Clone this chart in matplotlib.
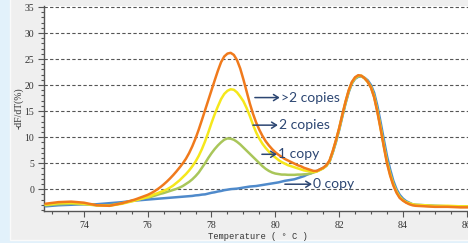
import numpy as np
import matplotlib.pyplot as plt
from matplotlib.patches import Rectangle
from matplotlib.ticker import MultipleLocator

# 熔解曲线数据，温度采样点
temps = ([72.8, 73.2, 73.6, 74.0, 74.4, 74.8, 75.2, 75.6]
         + list(np.round(np.arange(76.0, 84.45, 0.1), 1))
         + [84.7, 85.0, 85.4, 85.8, 86.2, 86.6, 86.8])

zero_copy = [-3.3, -3.1, -3.0, -2.9, -2.9, -2.7, -2.5, -2.2,
             -2.0, -1.95, -1.9, -1.85, -1.8, -1.75, -1.7, -1.65, -1.6, -1.55,
             -1.5, -1.45, -1.4, -1.35, -1.3, -1.2, -1.15, -1.05, -1.0, -0.85,
             -0.7, -0.6, -0.45, -0.35, -0.2, -0.1, 0.0, 0.05, 0.1, 0.2,
             0.3, 0.4, 0.5, 0.55, 0.6, 0.7, 0.8, 0.9, 1.0, 1.1,
             1.2, 1.3, 1.45, 1.6, 1.7, 1.8, 1.9, 2.1, 2.3, 2.5,
             2.8, 3.0, 3.3, 3.5, 3.8, 4.1, 4.5, 5.3, 7.0, 9.0,
             11.3, 13.9, 16.4, 18.6, 20.3, 21.2, 21.6, 21.7, 21.4, 20.9,
             20.0, 18.5, 16.0, 12.9, 9.6, 6.4, 3.8, 1.6, 0.0, -1.1,
             -1.8, -2.3, -2.6, -2.9, -3.0,
             -3.1, -3.2, -3.3, -3.3, -3.4, -3.4, -3.5]

one_copy = [-3.1, -2.9, -2.8, -2.9, -3.1, -3.1, -2.7, -2.1,
            -1.6, -1.5, -1.3, -1.1, -0.9, -0.75, -0.55, -0.35, -0.15, 0.05,
            0.3, 0.6, 1.0, 1.4, 1.9, 2.5, 3.2, 4.1, 5.0, 6.0,
            6.9, 7.7, 8.4, 9.0, 9.5, 9.75, 9.7, 9.5, 9.1, 8.6,
            8.0, 7.4, 6.8, 6.2, 5.6, 5.0, 4.4, 3.9, 3.5, 3.2,
            3.0, 2.9, 2.8, 2.8, 2.75, 2.75, 2.75, 2.8, 2.8, 2.85,
            2.9, 3.0, 3.2, 3.4, 3.7, 4.0, 4.5, 5.3, 7.1, 9.2,
            11.5, 14.1, 16.6, 18.8, 20.4, 21.3, 21.7, 21.7, 21.3, 20.6,
            19.6, 17.8, 15.1, 11.9, 8.5, 5.4, 3.0, 1.0, -0.5, -1.5,
            -2.1, -2.5, -2.8, -3.0, -3.1,
            -3.2, -3.3, -3.3, -3.4, -3.4, -3.5, -3.5]

two_copies = [-3.0, -2.7, -2.6, -2.8, -3.1, -3.2, -2.8, -2.2,
              -1.5, -1.3, -1.0, -0.8, -0.55, -0.3, -0.05, 0.3, 0.7, 1.2,
              1.7, 2.3, 2.9, 3.6, 4.4, 5.3, 6.4, 7.7, 9.2, 10.9,
              12.7, 14.4, 15.9, 17.3, 18.3, 18.9, 19.2, 19.1, 18.6, 17.8,
              16.9, 15.6, 14.1, 12.4, 10.9, 9.7, 8.7, 7.9, 7.2, 6.6,
              6.1, 5.6, 5.2, 4.9, 4.6, 4.4, 4.2, 4.0, 3.8, 3.6,
              3.5, 3.4, 3.3, 3.4, 3.7, 4.0, 4.5, 5.4, 7.2, 9.3,
              11.6, 14.2, 16.7, 18.9, 20.5, 21.4, 21.8, 21.8, 21.3, 20.6,
              19.6, 17.8, 15.0, 11.8, 8.4, 5.2, 2.8, 0.9, -0.5, -1.5,
              -2.1, -2.5, -2.7, -2.9, -3.0,
              -3.1, -3.2, -3.2, -3.3, -3.3, -3.4, -3.4]

more_copies = [-2.8, -2.5, -2.4, -2.6, -3.1, -3.2, -2.7, -2.0,
               -1.1, -0.8, -0.45, -0.05, 0.4, 0.9, 1.45, 2.05, 2.7, 3.4,
               4.15, 4.95, 5.85, 6.95, 8.25, 9.75, 11.45, 13.3, 15.2, 17.1,
               19.0, 20.9, 22.75, 24.4, 25.5, 26.05, 26.2, 25.8, 24.8, 23.2,
               21.1, 18.8, 16.5, 14.5, 12.8, 11.4, 10.2, 9.2, 8.4, 7.7,
               7.1, 6.6, 6.2, 5.8, 5.5, 5.2, 4.9, 4.6, 4.4, 4.1,
               3.9, 3.7, 3.5, 3.5, 3.8, 4.1, 4.6, 5.5, 7.3, 9.4,
               11.7, 14.3, 16.8, 19.0, 20.6, 21.5, 21.9, 21.8, 21.3, 20.6,
               19.5, 17.6, 14.8, 11.6, 8.2, 5.0, 2.6, 0.7, -0.7, -1.7,
               -2.2, -2.6, -2.9, -3.1, -3.2,
               -3.3, -3.4, -3.4, -3.5, -3.5, -3.6, -3.6]

labels = ['0 copy', '1 copy', '2 copies', '>2 copies']
colors = ['#4f8acb', '#a9c65a', '#f5e71c', '#f07a1c']

fig = plt.figure(figsize=(4.68, 2.43), dpi=100)
fig.patch.set_facecolor('#e2f1fb')
# 灰色面板
panel = Rectangle((10 / 468, 3 / 243), 1.0, 1.0, transform=fig.transFigure,
                  facecolor='#efefef', edgecolor='#fafafa', lw=1, zorder=-10)
fig.add_artist(panel)

ax = fig.add_axes([44 / 468, 32 / 243, 446 / 468, 205 / 243])
ax.set_zorder(5)
ax.set_facecolor('white')

for ys, c in zip([zero_copy, one_copy, two_copies, more_copies], colors):
    ax.plot(temps, ys, color=c, lw=1.8, solid_capstyle='round', solid_joinstyle='round', zorder=3)

ax.set_xlim(72.75, 86.73)
ax.set_ylim(-4.2, 35.2)

ax.xaxis.set_major_locator(MultipleLocator(2))
ax.xaxis.set_minor_locator(MultipleLocator(0.5))
ax.yaxis.set_major_locator(MultipleLocator(5))
ax.yaxis.set_minor_locator(MultipleLocator(1))
ax.set_yticks(np.arange(0, 36, 5))

ax.yaxis.grid(True, which='major', linestyle=(0, (3, 2)), color='#555555', lw=0.8, zorder=1)
ax.set_axisbelow(True)

for s in ['top', 'right']:
    ax.spines[s].set_visible(False)
for s in ['left', 'bottom']:
    ax.spines[s].set_color('#555555')
    ax.spines[s].set_linewidth(1.0)

ax.tick_params(which='major', direction='out', length=4, width=0.8, color='#555555',
               labelsize=7, labelcolor='#333333', pad=3)
ax.tick_params(which='minor', direction='out', length=2.5, width=0.8, color='#555555')
for lab in ax.get_xticklabels() + ax.get_yticklabels():
    lab.set_family('Liberation Serif')

ax.set_ylabel('-dF/dT(%)', family='Liberation Serif', fontsize=7, color='#333333')
ax.yaxis.set_label_coords(-20 / 446, 0.5)
ax.set_xlabel('Temperature ( ° C )', family='Liberation Mono', fontsize=6.3, color='#333333')
ax.xaxis.set_label_coords(0.48, -0.10)

# 箭头标注
navy = '#2c4672'
notes = [((79.36, 17.6), (80.14, 17.6), labels[3]),
         ((79.30, 12.3), (80.08, 12.3), labels[2]),
         ((79.58, 6.7), (80.05, 6.7), labels[1]),
         ((80.30, 0.95), (81.15, 0.95), labels[0])]
for tail, tip, txt in notes:
    ax.annotate('', xy=tip, xytext=tail,
                arrowprops=dict(arrowstyle='->,head_length=0.35,head_width=0.22',
                                color=navy, lw=1.1, shrinkA=0, shrinkB=0), zorder=5)
    ax.text(tip[0] + 0.04, tip[1], txt, color=navy, fontsize=10, family='Lato',
            va='center', ha='left', zorder=5)

fig.savefig('out.png', dpi=100, facecolor=fig.get_facecolor())
